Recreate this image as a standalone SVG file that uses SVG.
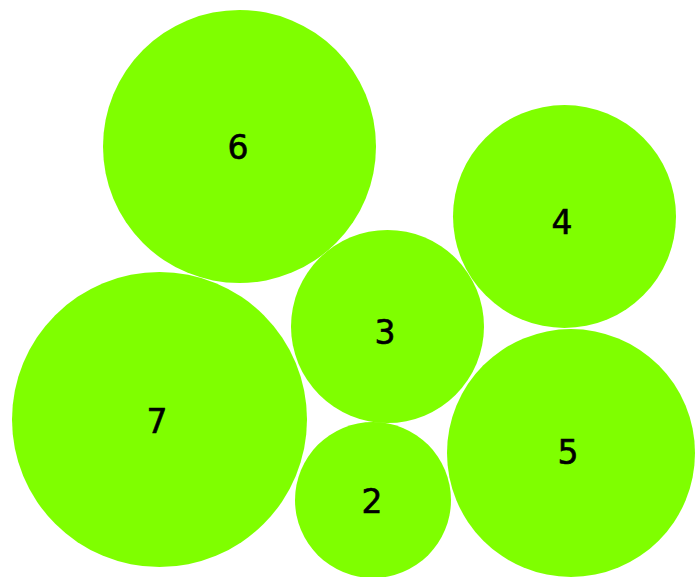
<svg xmlns="http://www.w3.org/2000/svg" width="697" height="577" viewBox="0 0 697 577">
<style>
.c{fill:#7FFF00}
.t{font-family:"DejaVu Sans",sans-serif;font-size:33px;fill:#000;stroke:#000;stroke-width:0.6;text-anchor:middle}
</style>
<rect width="697" height="577" fill="#fff"/>
<g id="connectors"></g>
<g id="node6"><circle class="c" cx="239.5" cy="146.5" r="136.5"/><text class="t" x="238" y="159">6</text></g>
<g id="node4"><circle class="c" cx="564.5" cy="216.5" r="111.5"/><text class="t" x="562" y="234">4</text></g>
<g id="node3"><circle class="c" cx="387.5" cy="326.5" r="96.5"/><text class="t" x="385" y="344">3</text></g>
<g id="node7"><circle class="c" cx="159.5" cy="419.5" r="147.5"/><text class="t" x="157" y="433">7</text></g>
<g id="node5"><circle class="c" cx="571" cy="453" r="124"/><text class="t" x="568" y="464">5</text></g>
<g id="node2"><circle class="c" cx="373" cy="500" r="78"/><text class="t" x="372" y="513">2</text></g>
</svg>
